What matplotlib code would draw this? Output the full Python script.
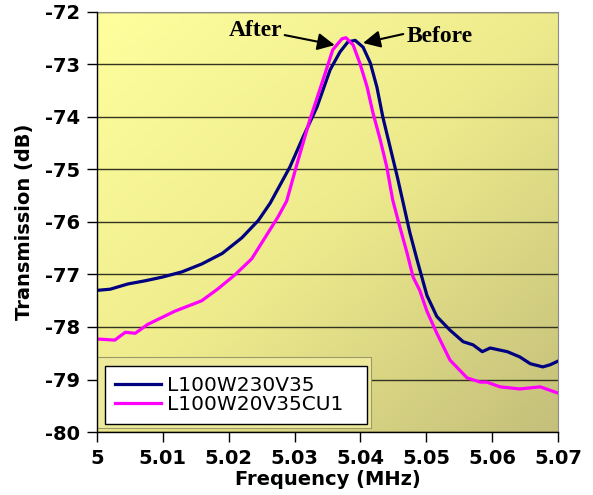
import numpy as np
import matplotlib
matplotlib.use("Agg")
import matplotlib.pyplot as plt
from matplotlib.colors import LinearSegmentedColormap
from matplotlib.patches import Rectangle

# ---- data ----
before_freq = [5.0002, 5.0020, 5.0047, 5.0073, 5.0099, 5.0129, 5.0159, 5.0190, 5.0220,
               5.0245, 5.0263, 5.0293, 5.0313, 5.0334, 5.0354, 5.0369, 5.0381, 5.0392,
               5.0404, 5.0415, 5.0425, 5.0434, 5.0445, 5.0456, 5.0465, 5.0475, 5.0486,
               5.0501, 5.0516, 5.0536, 5.0556, 5.0571, 5.0585, 5.0597, 5.0623, 5.0642,
               5.0658, 5.0677, 5.0688, 5.0700]
before_db = [-77.30, -77.28, -77.18, -77.12, -77.05, -76.95, -76.80, -76.60, -76.30,
             -75.97, -75.64, -74.95, -74.38, -73.81, -73.10, -72.76, -72.57, -72.54,
             -72.67, -72.97, -73.43, -74.00, -74.57, -75.14, -75.64, -76.20, -76.72,
             -77.40, -77.80, -78.06, -78.28, -78.34, -78.47, -78.40, -78.47, -78.57,
             -78.70, -78.76, -78.72, -78.65]

after_freq = [5.0002, 5.0027, 5.0043, 5.0058, 5.0077, 5.0118, 5.0159, 5.0184, 5.0210,
              5.0235, 5.0255, 5.0275, 5.0288, 5.0304, 5.0323, 5.0343, 5.0358, 5.0372,
              5.0378, 5.0389, 5.0399, 5.0410, 5.0419, 5.0430, 5.0440, 5.0449, 5.0460,
              5.0471, 5.0480, 5.0490, 5.0501, 5.0516, 5.0536, 5.0562, 5.0582, 5.0592,
              5.0612, 5.0642, 5.0673, 5.0698]
after_db = [-78.23, -78.25, -78.10, -78.12, -77.95, -77.70, -77.50, -77.27, -77.00,
            -76.70, -76.30, -75.90, -75.60, -74.88, -74.06, -73.30, -72.72, -72.51,
            -72.49, -72.63, -72.97, -73.42, -73.92, -74.43, -74.95, -75.58, -76.10,
            -76.60, -77.05, -77.30, -77.70, -78.12, -78.63, -78.97, -79.05, -79.05,
            -79.14, -79.18, -79.14, -79.25]

series_labels = ["L100W230V35", "L100W20V35CU1"]
x_ticks = [5.00, 5.01, 5.02, 5.03, 5.04, 5.05, 5.06, 5.07]
x_tick_labels = ["5", "5.01", "5.02", "5.03", "5.04", "5.05", "5.06", "5.07"]
y_ticks = [-80, -79, -78, -77, -76, -75, -74, -73, -72]

# ---- figure ----
fig = plt.figure(figsize=(5.93, 4.95), dpi=100)
ax = fig.add_axes([97/593, 63/495, 461/593, 420/495])

# diagonal gradient background: light top-left, olive bottom-right
cmap = LinearSegmentedColormap.from_list(
    "bg", [(1.0, 1.0, 0.62), (0.93, 0.92, 0.55), (0.77, 0.75, 0.48)])
gx, gy = np.meshgrid(np.linspace(0, 1, 200), np.linspace(0, 1, 200))
grad = (gx + gy) / 2.0
ax.imshow(grad, cmap=cmap, extent=[0, 1, 0, 1], origin="upper", aspect="auto",
          transform=ax.transAxes, zorder=0, interpolation="bilinear")

ax.set_xlim(5.0, 5.07)
ax.set_ylim(-80, -72)
ax.set_yticks(y_ticks)
ax.set_yticklabels([str(v) for v in y_ticks])
ax.set_xticks(x_ticks)
ax.set_xticklabels(x_tick_labels)

for v in y_ticks:
    ax.axhline(v, color="#333322", lw=1.0, zorder=1)

ax.plot(before_freq, before_db, color="#000080", lw=2.3, label=series_labels[0], zorder=3)
ax.plot(after_freq, after_db, color="#FF00FF", lw=2.3, label=series_labels[1], zorder=3)

for s in ["top", "right"]:
    ax.spines[s].set_color("#8a8a8a")
for s in ["left", "bottom"]:
    ax.spines[s].set_color("black")
    ax.spines[s].set_linewidth(1.0)
    ax.spines[s].set_zorder(7)

ax.tick_params(axis="both", direction="out", length=7, width=1, labelsize=14, pad=5)
for lab in ax.get_xticklabels() + ax.get_yticklabels():
    lab.set_fontweight("bold")
    lab.set_family("DejaVu Sans")

ax.set_xlabel("Frequency (MHz)", fontsize=14, fontweight="bold", labelpad=2)
ax.set_ylabel("Transmission (dB)", fontsize=14, fontweight="bold", labelpad=8)

# pale frame behind the legend
ax.add_patch(Rectangle((0.0, 0.009), 0.595, 0.17, transform=ax.transAxes,
                       facecolor="#EDEA9C", edgecolor="#9C9A6A", lw=0.8, zorder=4))

leg = ax.legend(loc="lower left", bbox_to_anchor=(0.0174, 0.019, 0.568, 0.138),
                mode="expand", fontsize=14.5, frameon=True, fancybox=False,
                borderpad=0.5, labelspacing=0.0, handlelength=2.3, handletextpad=0.3,
                borderaxespad=0.0)
fr = leg.get_frame()
fr.set_facecolor("white")
fr.set_edgecolor("black")
fr.set_linewidth(1.0)
fr.set_alpha(1.0)
leg.set_zorder(5)

# annotations
ax.text(5.0241, -72.36, "After", fontsize=17, fontweight="bold", family="Liberation Serif",
        ha="center", va="center", zorder=6)
ax.annotate("", xy=(5.0361, -72.63), xytext=(5.0285, -72.44),
            arrowprops=dict(arrowstyle="-|>", color="black", lw=1.5, mutation_scale=26,
                            shrinkA=0, shrinkB=0), zorder=6)
ax.text(5.0470, -72.46, "Before", fontsize=17, fontweight="bold", family="Liberation Serif",
        ha="left", va="center", zorder=6)
ax.annotate("", xy=(5.0404, -72.59), xytext=(5.0465, -72.42),
            arrowprops=dict(arrowstyle="-|>", color="black", lw=1.5, mutation_scale=26,
                            shrinkA=0, shrinkB=0), zorder=6)

fig.savefig("out.png", dpi=100)
